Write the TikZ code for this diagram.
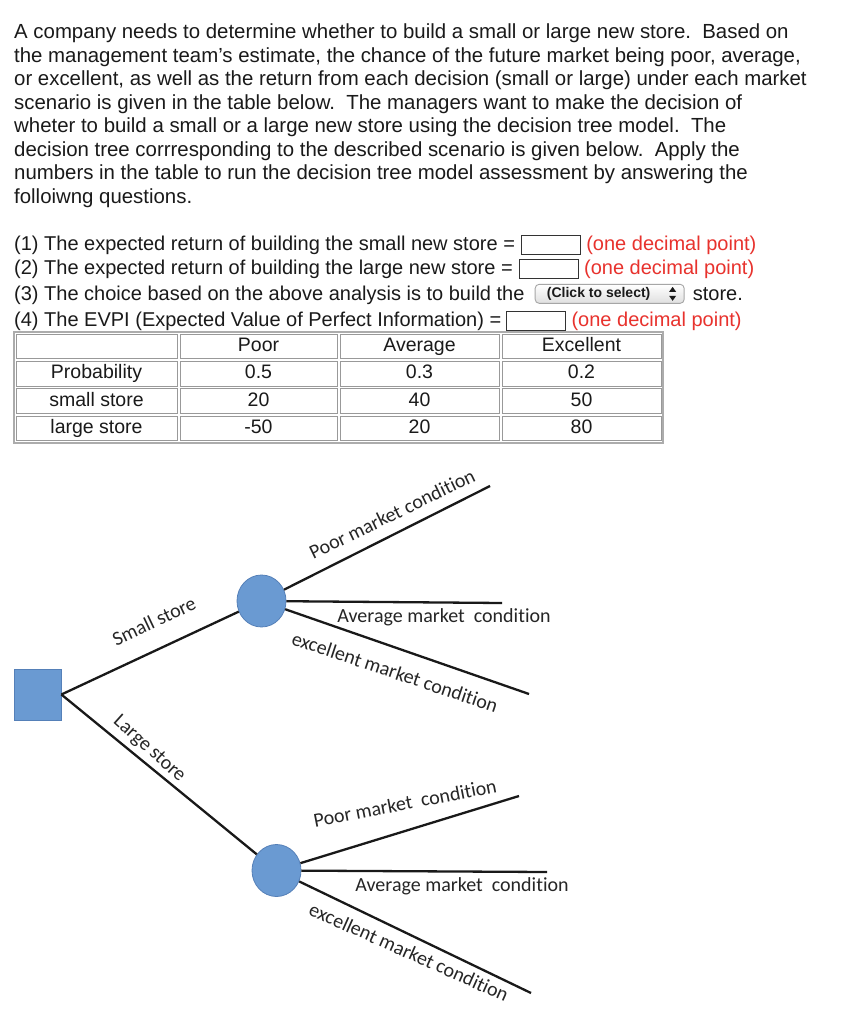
\documentclass[tikz,border=0pt]{standalone}
\usepackage{fontspec}
\setmainfont{Liberation Sans}
\newfontfamily\treefont[Ligatures=NoCommon]{Carlito}
\usetikzlibrary{positioning, shapes.geometric}
\definecolor{tblue}{HTML}{6A9AD2}
\definecolor{tblueedge}{HTML}{5580B8}
\definecolor{qred}{HTML}{E8322D}
\definecolor{ink}{HTML}{1A1A1A}
\tikzset{
  para/.style={anchor=base west, inner sep=0pt, font=\fontsize{20.4}{23.4}\selectfont, text=ink},
  ques/.style={anchor=base west, inner sep=0pt, font=\fontsize{20}{23}\selectfont, text=ink},
  note/.style={inner sep=0pt, font=\fontsize{20}{23}\selectfont, text=qred},
  ansbox/.style={draw=black!80, line width=0.9pt, fill=white, minimum width=59pt, minimum height=19pt, inner sep=0pt},
  selbox/.style={draw=gray!70, line width=0.9pt, rounded corners=4pt, top color=white, bottom color=gray!25,
                 minimum width=149pt, minimum height=19pt, inner sep=0pt},
  cell/.style={draw=gray!80, line width=1pt, inner sep=0pt, minimum height=24.5pt,
               text height=14pt, text depth=4pt, font=\fontsize{19.5}{22}\selectfont, text=ink},
  decbox/.style={rectangle, draw=tblueedge, fill=tblue, line width=0.8pt, minimum width=47pt, minimum height=51pt, inner sep=0pt},
  chance/.style={ellipse, draw=tblueedge, fill=tblue, line width=0.8pt, minimum width=49pt, minimum height=52pt, inner sep=0pt},
  branch/.style={line width=2.3pt, black!90},
  blabel/.style={font=\treefont\fontsize{20}{22}\selectfont, text=black!85, inner sep=0pt},
}

\begin{document}
\begin{tikzpicture}[x=1pt, y=-1pt]
  \useasboundingbox[fill=white] (0,0) rectangle (843,1024);

  %% problem statement
  \foreach \txt [count=\i from 0] in {
    {A company needs to determine whether to build a small or large new store.~~Based on},
    {the management team's estimate, the chance of the future market being poor, average,},
    {or excellent, as well as the return from each decision (small or large) under each market},
    {scenario is given in the table below.~~The managers want to make the decision of},
    {wheter to build a small or a large new store using the decision tree model.~~The},
    {decision tree corrresponding to the described scenario is given below.~~Apply the},
    {numbers in the table to run the decision tree model assessment by answering the},
    {folloiwng questions.}}
    \node[para] (line\i) at (14, 39+23.45*\i) {\txt};

  %% questions
  \node[ques] (q1) at (14,250) {(1) The expected return of building the small new store =};
  \node[ansbox, right=6pt of q1.east] (in1) {};
  \node[note, right=5pt of in1] (n1) {(one decimal point)};
  \node[ques] (q2) at (14,274) {(2) The expected return of building the large new store =};
  \node[ansbox, right=6pt of q2.east] (in2) {};
  \node[note, right=5pt of in2] (n2) {(one decimal point)};
  \node[ques] (q3) at (14,300) {(3) The choice based on the above analysis is to build the};
  \node[selbox, right=10pt of q3.east, yshift=1pt] (sel) {};
  \node[anchor=west, inner sep=0pt, font=\fontsize{14}{16}\bfseries, text=ink] (seltxt)
    at ([xshift=12pt]sel.west) {(Click to select)};
  \fill[ink] ([xshift=-15.5pt,yshift=2pt]sel.east) -- ++(7,0) -- ++(-3.5,-5) -- cycle;
  \fill[ink] ([xshift=-15.5pt,yshift=-2pt]sel.east) -- ++(7,0) -- ++(-3.5,5) -- cycle;
  \node[ques, anchor=west, right=8pt of sel] (q3b) {store.};
  \node[ques] (q4) at (14,326) {(4) The EVPI (Expected Value of Perfect Information) =};
  \node[ansbox, right=5pt of q4.east] (in4) {};
  \node[note, right=5pt of in4] (n4) {(one decimal point)};

  %% table
  \node[draw=gray!65, line width=1.6pt, minimum width=649pt, minimum height=111pt, inner sep=0pt] (tbl) at (338.5,387.5) {};
  \foreach \lab/\pa/\pb/\pc [count=\r from 0] in {/Poor/Average/Excellent, Probability/0.5/0.3/0.2,
      small store/20/40/50, large store/-50/20/80}{
    \pgfmathsetmacro\yy{346.5+27.3*\r}
    \node[cell, minimum width=161pt] (c\r-0) at (96.5,\yy) {\lab};
    \node[cell, minimum width=157pt] (c\r-1) at (258.5,\yy) {\pa};
    \node[cell, minimum width=159pt] (c\r-2) at (419.5,\yy) {\pb};
    \node[cell, minimum width=159pt] (c\r-3) at (581.5,\yy) {\pc};
  }

  %% decision tree
  \node[decbox] (dec) at (37.5,694.5) {};
  \node[chance] (ch1) at (261.5,601) {};
  \node[chance] (ch2) at (276.5,870.5) {};
  \coordinate (poor1) at (490,486);
  \coordinate (avg1) at (502,603);
  \coordinate (exc1) at (529,694);
  \coordinate (poor2) at (519,796);
  \coordinate (avg2) at (547,872);
  \coordinate (exc2) at (531,993);

  \draw[branch] (dec.east) -- (ch1);
  \draw[branch] (dec.east) -- (ch2);
  \draw[branch] (ch1) -- (poor1);
  \draw[branch] (ch1) -- (avg1);
  \draw[branch] (ch1) -- (exc1);
  \draw[branch] (ch2) -- (poor2);
  \draw[branch] (ch2) -- (avg2);
  \draw[branch] (ch2) -- (exc2);

  \node[blabel, rotate=25.4] (lsmall) at (154,621) {Small store};
  \node[blabel, rotate=-42] (llarge) at (149,749) {Large store};
  \node[blabel, rotate=25.8] (lp1) at (392,514) {Poor market condition};
  \node[blabel] (la1) at (444,617) {Average market~~condition};
  \node[blabel, rotate=-18.5] (le1) at (395,672) {excellent market condition};
  \node[blabel, rotate=11] (lp2) at (405,803) {Poor market~~condition};
  \node[blabel] (la2) at (462,886) {Average market~~condition};
  \node[blabel, rotate=-24] (le2) at (409,952) {excellent market condition};
\end{tikzpicture}
\end{document}
